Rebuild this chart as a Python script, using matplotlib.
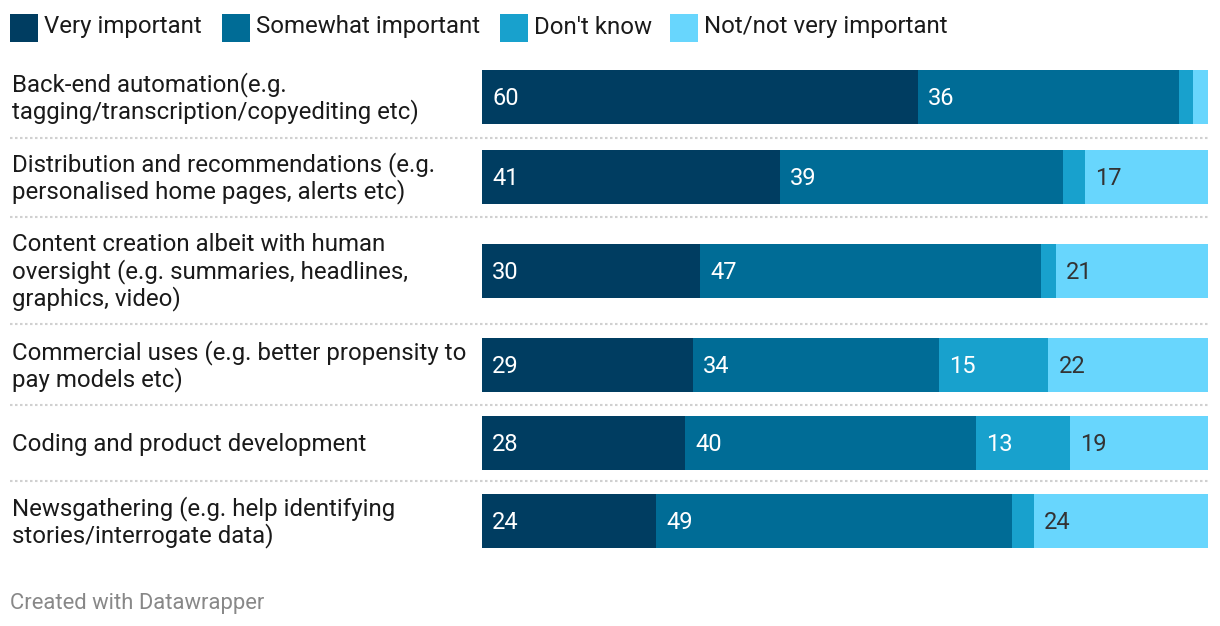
import matplotlib
matplotlib.use("Agg")
import matplotlib.pyplot as plt

plt.rcParams['font.family'] = ['Roboto', 'DejaVu Sans']

categories = [
    "Back-end automation(e.g.\ntagging/transcription/copyediting etc)",
    "Distribution and recommendations (e.g.\npersonalised home pages, alerts etc)",
    "Content creation albeit with human\noversight (e.g. summaries, headlines,\ngraphics, video)",
    "Commercial uses (e.g. better propensity to\npay models etc)",
    "Coding and product development",
    "Newsgathering (e.g. help identifying\nstories/interrogate data)",
]
series_names = ["Very important", "Somewhat important", "Don't know", "Not/not very important"]
very_important = [60, 41, 30, 29, 28, 24]
somewhat_important = [36, 39, 47, 34, 40, 49]
dont_know = [2, 3, 2, 15, 13, 3]
not_important = [2, 17, 21, 22, 19, 24]

colors = ["#003d61", "#006c96", "#18a1cd", "#68d6fd"]
text_colors = ["white", "white", "white", "#333333"]

W, H = 1220, 626
fig = plt.figure(figsize=(W / 100, H / 100), dpi=100)

# layout (pixels)
bar_centers = [97, 177, 271, 365, 443, 521]
bar_h = 54
seps = [138, 217, 324, 405, 481]
x0, x1 = 482, 1208

ax = fig.add_axes([x0 / W, 0, (x1 - x0) / W, 1])
ax.set_xlim(0, 100)
ax.set_ylim(H, 0)
ax.axis("off")

# full-figure overlay for text/lines in pixel coords
ov = fig.add_axes([0, 0, 1, 1], zorder=-1)
ov.set_xlim(0, W)
ov.set_ylim(H, 0)
ov.axis("off")

series = [very_important, somewhat_important, dont_know, not_important]
lefts = [0] * len(categories)
for s, vals in enumerate(series):
    ax.barh(bar_centers, vals, left=lefts, height=bar_h, color=colors[s], linewidth=0)
    for i, v in enumerate(vals):
        if v >= 5:
            ax.text(lefts[i] + 1.4, bar_centers[i] - 1, str(v), color=text_colors[s],
                    fontsize=17, va="center_baseline", ha="left")
    lefts = [l + v for l, v in zip(lefts, vals)]

for i, cat in enumerate(categories):
    ov.text(12, bar_centers[i] + 1, cat, fontsize=17.3, va="center", ha="left",
            color="#1a1a1a", linespacing=1.15)

for y in seps:
    ov.plot([10, x1], [y, y], color="#d0d0d0", linewidth=1.5,
            linestyle=(0, (1.2, 1.2)))

# legend
leg_x = [10, 222, 500, 670]
for x, name, c in zip(leg_x, series_names, colors):
    ov.add_patch(plt.Rectangle((x, 14), 28, 28, color=c, linewidth=0))
    ov.text(x + 34, 27, name, fontsize=17.3, va="center", ha="left", color="#1a1a1a")

ov.text(10, 603, "Created with Datawrapper", fontsize=15.8, va="center", ha="left",
        color="#888888")

fig.savefig("out.png", dpi=100)
